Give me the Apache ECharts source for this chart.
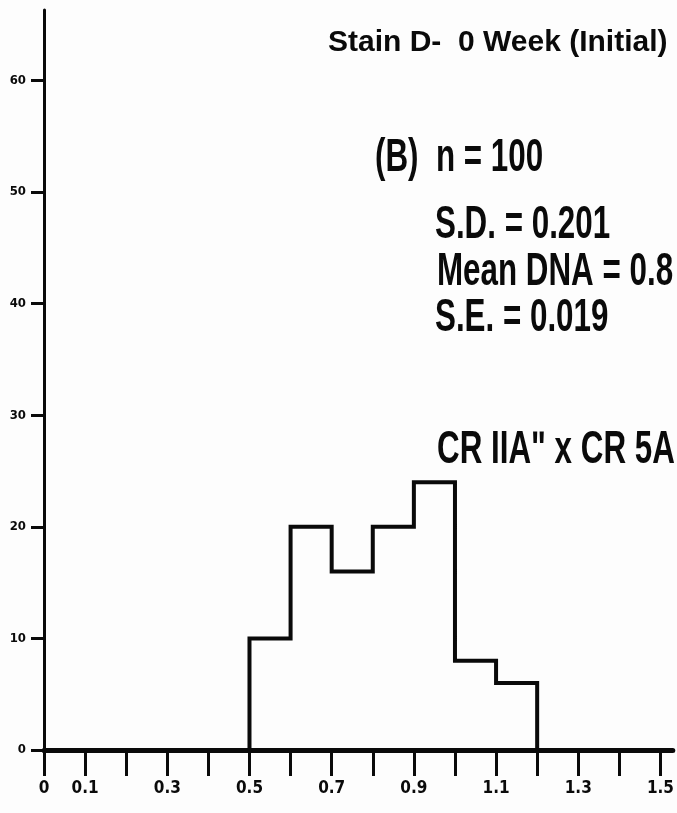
<!DOCTYPE html>
<html>
<head>
<meta charset="utf-8">
<style>
  html, body { margin: 0; padding: 0; background: #fdfdfd; }
  #chart { width: 677px; height: 813px; }
</style>
<script src="https://cdn.jsdelivr.net/npm/echarts@6/dist/echarts.min.js"></script>
</head>
<body>
<div id="chart"></div>
<script>
// Relative DNA content bins (class edges) and cell counts per class
const binEdges = [0.5, 0.6, 0.7, 0.8, 0.9, 1.0, 1.1, 1.2];
const binCounts = [10, 20, 16, 20, 24, 8, 6];

// Axis tick labels
const xTickLabels = { 0: '0', 0.1: '0.1', 0.3: '0.3', 0.5: '0.5', 0.7: '0.7', 0.9: '0.9', 1.1: '1.1', 1.3: '1.3', 1.5: '1.5' };
const yTickValues = [0, 10, 20, 30, 40, 50, 60];
const xTickValues = [0, 0.1, 0.2, 0.3, 0.4, 0.5, 0.6, 0.7, 0.8, 0.9, 1.0, 1.1, 1.2, 1.3, 1.4, 1.5];

// Annotation text
const titleText = 'Stain D-  0 Week (Initial)';
const panelText = '(B)  n = 100';
const sdText = 'S.D. = 0.201';
const meanText = 'Mean DNA = 0.8';
const seText = 'S.E. = 0.019';
const crossText = 'CR IIA\u02BA x CR 5A';

// Histogram outline: up the first edge, across each class top, down the last edge
const outline = [[binEdges[0], 0]];
binCounts.forEach((c, i) => {
  outline.push([binEdges[i], c]);
  outline.push([binEdges[i + 1], c]);
});
outline.push([binEdges[binEdges.length - 1], 0]);

const ink = '#0a0a0a';
const labelFont = '"DejaVu Sans Condensed", "Liberation Sans Narrow", "Liberation Sans", sans-serif';
const xTickLen = 26;
const yTickLen = 13;

function note(text, x, y, size, sx) {
  return {
    type: 'text',
    x: x,
    y: y,
    scaleX: sx,
    style: {
      text: text,
      x: 0,
      y: 0,
      fill: ink,
      font: 'bold ' + size + 'px "Liberation Sans", Arial, sans-serif',
      verticalAlign: 'middle',
      align: 'left'
    }
  };
}

const chart = echarts.init(document.getElementById('chart'), null, { renderer: 'canvas' });

chart.setOption({
  backgroundColor: '#fdfdfd',
  animation: false,
  grid: { left: 44, right: 0, top: 10, bottom: 63, containLabel: false },
  xAxis: {
    type: 'value',
    min: 0,
    max: 1.53,
    interval: 0.1,
    axisLine: { show: true, onZero: false, lineStyle: { color: ink, width: 5 } },
    axisTick: {
      show: true,
      inside: false,
      length: xTickLen,
      customValues: xTickValues,
      lineStyle: { color: ink, width: 3 }
    },
    axisLabel: {
      show: true,
      margin: xTickLen + 4,
      customValues: Object.keys(xTickLabels).map(Number),
      formatter: v => xTickLabels[Math.round(v * 10) / 10] || '',
      color: ink,
      fontSize: 17,
      fontWeight: 'bold',
      fontFamily: labelFont
    },
    splitLine: { show: false }
  },
  yAxis: {
    type: 'value',
    min: 0,
    max: 66.3,
    interval: 10,
    axisLine: { show: true, onZero: true, lineStyle: { color: ink, width: 3 } },
    axisTick: {
      show: true,
      inside: false,
      length: yTickLen,
      customValues: yTickValues,
      lineStyle: { color: ink, width: 3 }
    },
    axisLabel: {
      show: true,
      margin: yTickLen + 5,
      customValues: yTickValues,
      color: ink,
      fontSize: 13,
      fontWeight: 'bold',
      fontFamily: labelFont
    },
    splitLine: { show: false }
  },
  series: [{
    type: 'line',
    data: outline,
    symbol: 'none',
    silent: true,
    lineStyle: { color: ink, width: 4, join: 'miter', cap: 'square' },
    z: 3
  }],
  graphic: [
    note(titleText, 328, 43, 30, 1.0),
    note(panelText, 375, 158, 47, 0.667),
    note(sdText, 435, 225, 47, 0.667),
    note(meanText, 437, 272, 47, 0.667),
    note(seText, 435, 318, 47, 0.667),
    note(crossText, 437, 450, 47, 0.667)
  ]
});
</script>
</body>
</html>
